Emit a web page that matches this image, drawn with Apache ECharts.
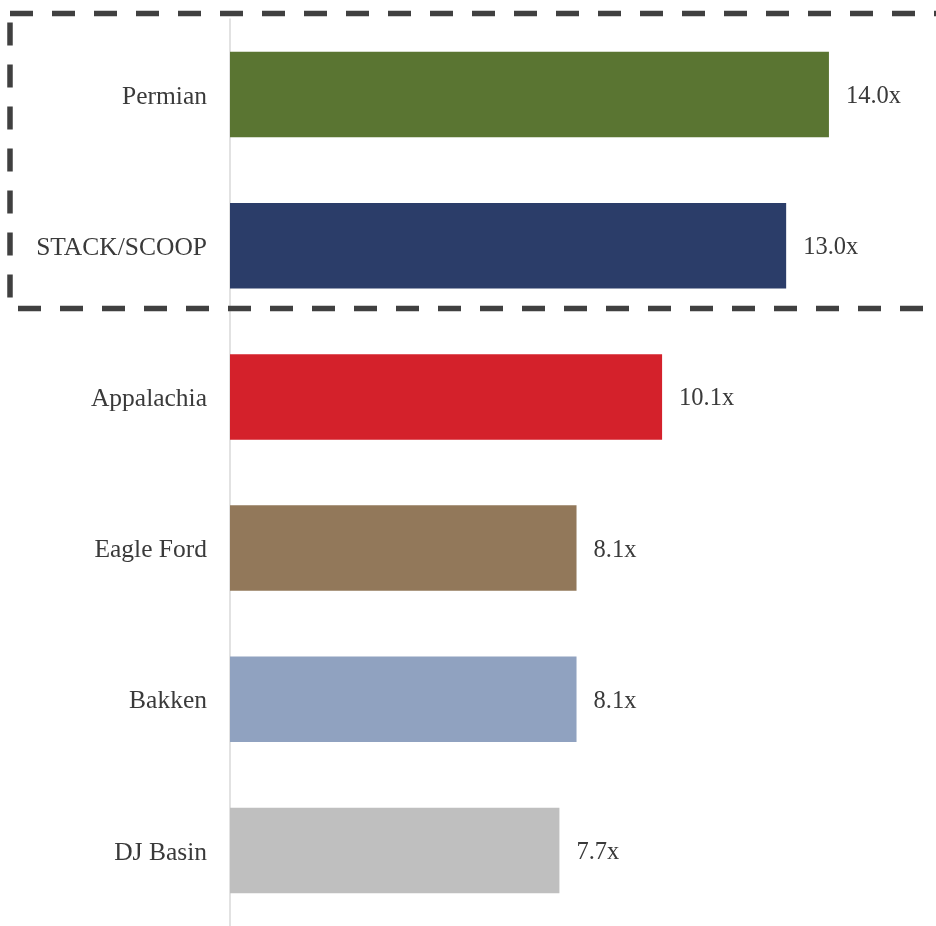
<!DOCTYPE html>
<html>
<head>
<meta charset="utf-8">
<script src="https://cdn.jsdelivr.net/npm/echarts@6/dist/echarts.min.js"></script>
<style>
  html, body { margin: 0; padding: 0; background: #ffffff; }
  #chart { width: 936px; height: 926px; }
</style>
</head>
<body>
<div id="chart"></div>
<script>
// Basins, top to bottom
const basins = ['Permian', 'STACK/SCOOP', 'Appalachia', 'Eagle Ford', 'Bakken', 'DJ Basin'];
// Multiple for each basin
const multiples = [14.0, 13.0, 10.1, 8.1, 8.1, 7.7];
// Bar fill per basin
const barColors = ['#5a7532', '#2b3d69', '#d4212b', '#92785a', '#90a2c0', '#bfbfbf'];

const FONT = '"Liberation Serif", "DejaVu Serif", serif';
const chart = echarts.init(document.getElementById('chart'), null, { renderer: 'canvas' });

// Text style shared by basin names, nudged a little below the band centre
const nameStyle = { color: '#3a3a3a', fontFamily: FONT, fontSize: 25.5, padding: [5, 0, 0, 0] };

chart.setOption({
  animation: false,
  backgroundColor: '#ffffff',
  grid: { left: 230, top: 19, width: 684.5, height: 911, containLabel: false },
  xAxis: {
    type: 'value',
    min: 0,
    max: 16,
    show: false
  },
  yAxis: {
    type: 'category',
    data: basins,
    inverse: true,
    axisLine: { show: true, lineStyle: { color: '#d9d9d9', width: 1.5 } },
    axisTick: { show: false },
    axisLabel: {
      margin: 23,
      formatter: v => '{n|' + v + '}',
      rich: { n: nameStyle }
    },
    splitLine: { show: false }
  },
  series: [{
    type: 'bar',
    barWidth: '56.6%',
    data: multiples.map((v, i) => ({ value: v, itemStyle: { color: barColors[i] } })),
    label: {
      show: true,
      position: 'right',
      distance: 17,
      offset: [0, 2],
      color: '#3a3a3a',
      fontFamily: FONT,
      fontSize: 24.5,
      formatter: p => p.value.toFixed(1) + 'x'
    }
  }],
  graphic: [{
    type: 'rect',
    z: 100,
    shape: { x: 10, y: 13.5, width: 960, height: 295 },
    style: {
      fill: 'none',
      stroke: '#404040',
      lineWidth: 5.5,
      lineDash: [23, 19]
    }
  }]
});
</script>
</body>
</html>
